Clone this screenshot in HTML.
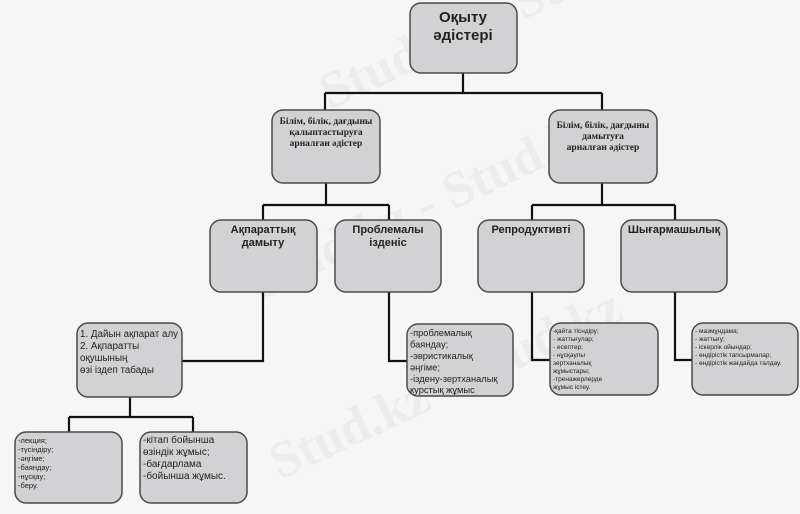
<!DOCTYPE html>
<html><head><meta charset="utf-8"><style>
html,body{margin:0;padding:0;background:#f6f6f6;}
svg{display:block;}
.b{fill:#d2d2d4;stroke:#4a4a4a;stroke-width:1.5;}
.l{stroke:#111;stroke-width:2.2;fill:none;}
.s{font-family:"Liberation Sans","Noto Sans CJK SC",sans-serif;fill:#222;}
.r{font-family:"Liberation Serif","Noto Serif CJK SC",serif;fill:#222;font-weight:bold;}
</style></head><body>
<svg width="800" height="514" viewBox="0 0 800 514" xmlns="http://www.w3.org/2000/svg">
<g opacity="0.12" font-family="Liberation Serif, serif" font-weight="bold" font-size="52" fill="#aaa">
<text x="260" y="300" transform="rotate(-25 260 300)">Stud.kz - Stud.kz</text>
<text x="280" y="480" transform="rotate(-25 280 480)">Stud.kz - Stud.kz</text>
<text x="330" y="110" transform="rotate(-25 330 110)">Stud.kz - Stud.kz</text>
</g>
<path class="l" d="M463 73 V93 M325 93 H602 M325 93 V110 M602 93 V110"/>
<path class="l" d="M326 183 V205 M263 205 H389 M263 205 V220 M389 205 V220"/>
<path class="l" d="M602 183 V205 M532 205 H675 M532 205 V220 M675 205 V220"/>
<path class="l" d="M263 292 V361 H182"/>
<path class="l" d="M389 292 V361 H407"/>
<path class="l" d="M532 292 V360 H550"/>
<path class="l" d="M675 292 V360 H692"/>
<path class="l" d="M130 397 V417 M69 417 H193 M69 417 V432 M193 417 V432"/>
<rect class="b" x="410" y="3" width="107" height="70" rx="11"/>
<rect class="b" x="272" y="110" width="108" height="73" rx="11"/>
<rect class="b" x="549" y="110" width="108" height="73" rx="11"/>
<rect class="b" x="210" y="220" width="107" height="72" rx="11"/>
<rect class="b" x="335" y="220" width="106" height="72" rx="11"/>
<rect class="b" x="478" y="220" width="106" height="72" rx="11"/>
<rect class="b" x="621" y="220" width="106" height="72" rx="11"/>
<rect class="b" x="77" y="323" width="105" height="74" rx="11"/>
<rect class="b" x="407" y="324" width="106" height="72" rx="11"/>
<rect class="b" x="550" y="323" width="108" height="72" rx="11"/>
<rect class="b" x="692" y="323" width="106" height="72" rx="11"/>
<rect class="b" x="15" y="432" width="107" height="71" rx="11"/>
<rect class="b" x="140" y="432" width="107" height="71" rx="11"/>
<text class="s" font-weight="bold" font-size="15" text-anchor="middle"><tspan x="463" y="22">Оқыту</tspan><tspan x="463" y="40">әдістері</tspan></text>
<text class="r" font-size="9.5" text-anchor="middle"><tspan x="326" y="124">Білім, білік, дағдыны</tspan><tspan x="326" y="135">қалыптастыруға</tspan><tspan x="326" y="146">арналған әдістер</tspan></text>
<text class="r" font-size="9.5" text-anchor="middle"><tspan x="603" y="128">Білім, білік, дағдыны</tspan><tspan x="603" y="139">дамытуға</tspan><tspan x="603" y="150">арналған әдістер</tspan></text>
<text class="s" font-weight="bold" font-size="11" text-anchor="middle"><tspan x="263" y="233">Ақпараттық</tspan><tspan x="263" y="246">дамыту</tspan></text>
<text class="s" font-weight="bold" font-size="11" text-anchor="middle"><tspan x="388" y="233">Проблемалы</tspan><tspan x="388" y="246">ізденіс</tspan></text>
<text class="s" font-weight="bold" font-size="11" text-anchor="middle"><tspan x="531" y="233">Репродуктивті</tspan></text>
<text class="s" font-weight="bold" font-size="11" text-anchor="middle"><tspan x="674" y="233">Шығармашылық</tspan></text>
<text class="s" font-size="9.8"><tspan x="80" y="337">1. Дайын ақпарат алу</tspan><tspan x="80" y="349">2. Ақпаратты</tspan><tspan x="80" y="361">оқушының</tspan><tspan x="80" y="373">өзі іздеп табады</tspan></text>
<text class="s" font-size="9.3"><tspan x="410" y="336">-проблемалық</tspan><tspan x="410" y="347.5">баяндау;</tspan><tspan x="410" y="359">-эвристикалық</tspan><tspan x="410" y="370.5">әңгіме;</tspan><tspan x="410" y="382">-іздену-зертханалық</tspan><tspan x="410" y="393">курстық жұмыс</tspan></text>
<text class="s" font-size="6.5"><tspan x="553" y="333">-қайта тісндіру;</tspan><tspan x="553" y="341">- жаттығулар;</tspan><tspan x="553" y="349">- есептер;</tspan><tspan x="553" y="357">- нұсқаулы</tspan><tspan x="553" y="365">зертханалық</tspan><tspan x="553" y="373">жұмыстары;</tspan><tspan x="553" y="381">-тренажерлерде</tspan><tspan x="553" y="389">жұмыс істеу.</tspan></text>
<text class="s" font-size="6.5"><tspan x="695" y="333">- мазмұндама;</tspan><tspan x="695" y="341">- жаттығу;</tspan><tspan x="695" y="349">- іскерлік ойындар;</tspan><tspan x="695" y="357">- өндірістік тапсырмалар;</tspan><tspan x="695" y="365">- өндірістік жағдайда талдау.</tspan></text>
<text class="s" font-size="7.5"><tspan x="18" y="443">-лекция;</tspan><tspan x="18" y="452">-түсіндіру;</tspan><tspan x="18" y="461">-әңгіме;</tspan><tspan x="18" y="470">-баяндау;</tspan><tspan x="18" y="479">-нұсқау;</tspan><tspan x="18" y="488">-беру.</tspan></text>
<text class="s" font-size="10"><tspan x="143" y="443">-кітап бойынша</tspan><tspan x="143" y="455">өзіндік жұмыс;</tspan><tspan x="143" y="467">-бағдарлама</tspan><tspan x="143" y="479">-бойынша жұмыс.</tspan></text>
</svg>
</body></html>
